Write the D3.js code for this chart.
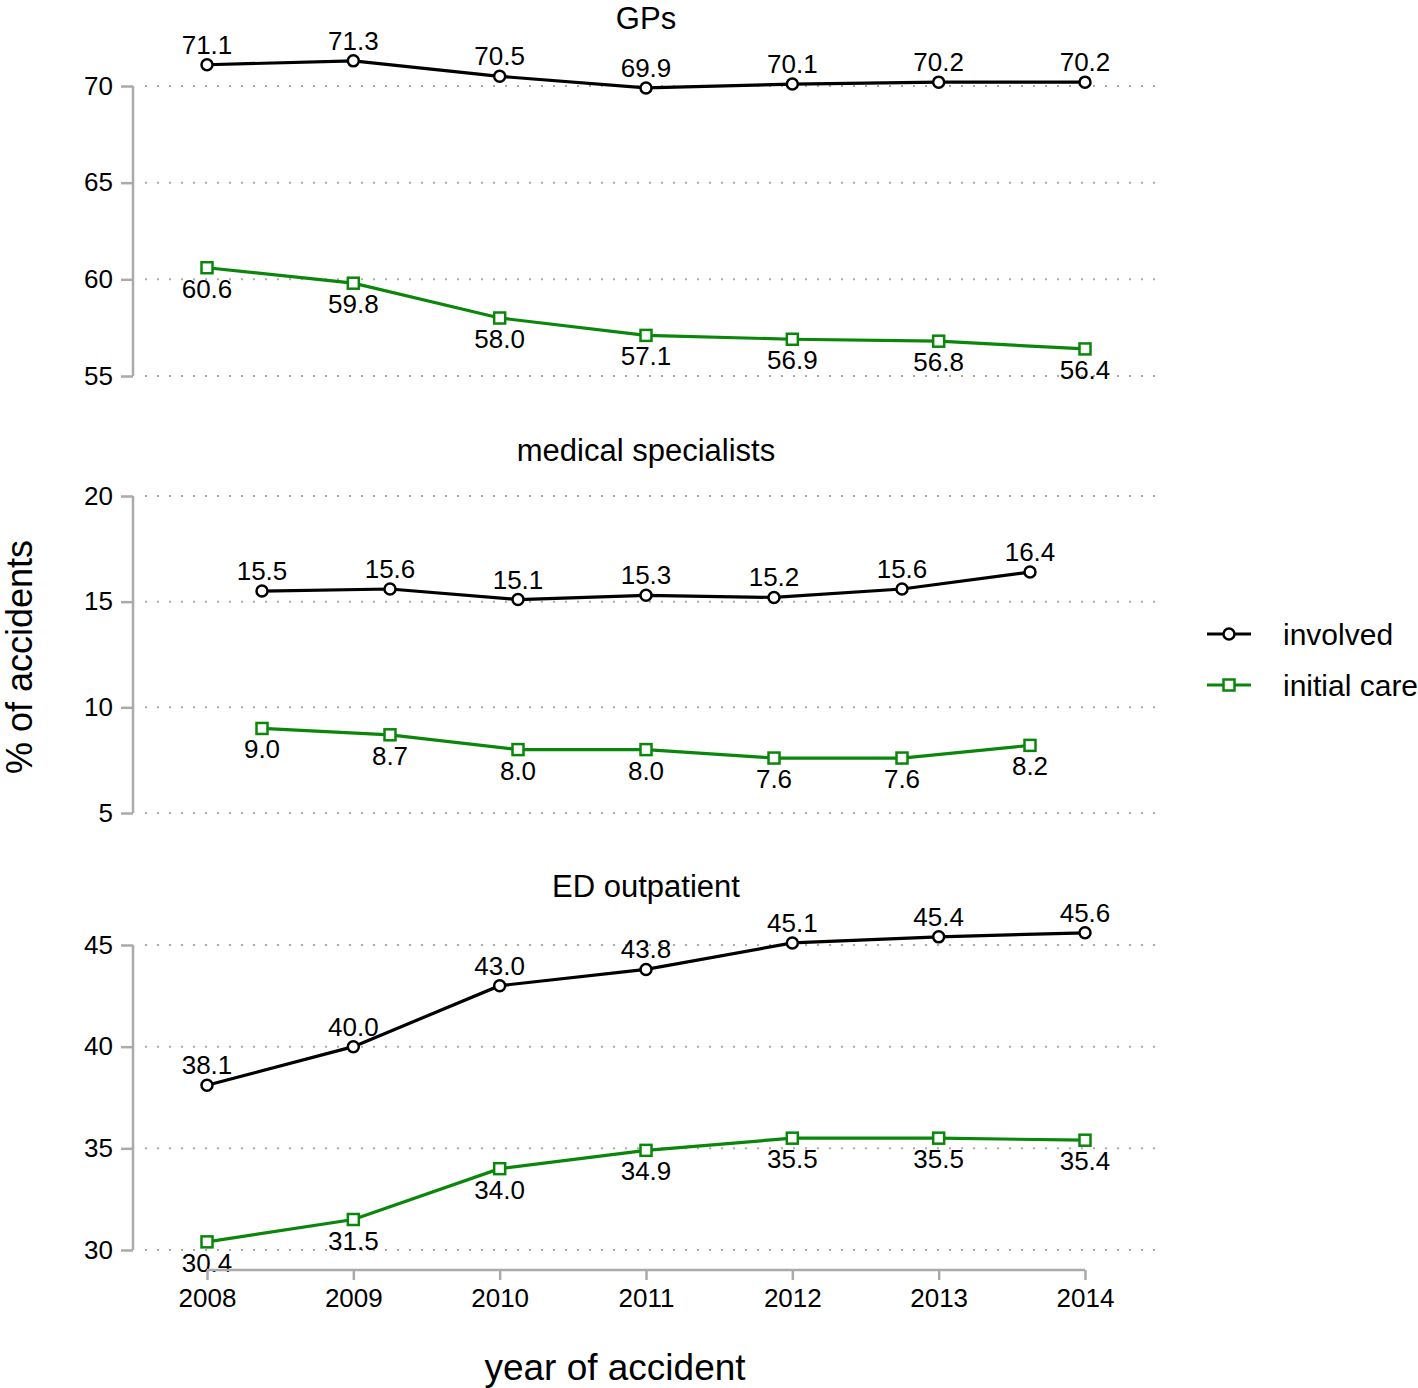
<!DOCTYPE html>
<html>
<head>
<meta charset="utf-8">
<script src="https://cdn.jsdelivr.net/npm/d3@7"></script>
<style>
  body { margin: 0; background: #fff; }
  svg text { font-family: "Liberation Sans", Arial, sans-serif; fill: #000; }
</style>
</head>
<body>
<div id="chart"></div>
<script>

var years = [2008, 2009, 2010, 2011, 2012, 2013, 2014];
var panelTitles = ["GPs", "medical specialists", "ED outpatient"];
var seriesNames = ["involved", "initial care"];

var gpInvolved = [71.1, 71.3, 70.5, 69.9, 70.1, 70.2, 70.2];
var gpInitial = [60.6, 59.8, 58.0, 57.1, 56.9, 56.8, 56.4];
var specInvolved = [15.5, 15.6, 15.1, 15.3, 15.2, 15.6, 16.4];
var specInitial = [9.0, 8.7, 8.0, 8.0, 7.6, 7.6, 8.2];
var edInvolved = [38.1, 40.0, 43.0, 43.8, 45.1, 45.4, 45.6];
var edInitial = [30.4, 31.5, 34.0, 34.9, 35.5, 35.5, 35.4];

var gpTicks = [55, 60, 65, 70];
var specTicks = [5, 10, 15, 20];
var edTicks = [30, 35, 40, 45];

var green = "#0a870a";
var gray = "#aaaaaa";

var svg = d3.select("#chart").append("svg")
    .attr("width", 1418)
    .attr("height", 1388);

//panel layout: y range in pixels and x range for the points
var panels = [
    {title: panelTitles[0], inv: gpInvolved, init: gpInitial, ticks: gpTicks,
     top: 86, bottom: 376, titleY: 29, x0: 207, x1: 1085},
    {title: panelTitles[1], inv: specInvolved, init: specInitial, ticks: specTicks,
     top: 496, bottom: 813, titleY: 461, x0: 262, x1: 1030},
    {title: panelTitles[2], inv: edInvolved, init: edInitial, ticks: edTicks,
     top: 945, bottom: 1250, titleY: 897, x0: 207, x1: 1085}
];

var axisX = 133;

panels.forEach(function (p, pi) {
    var y = d3.scaleLinear()
        .domain([d3.min(p.ticks), d3.max(p.ticks)])
        .range([p.bottom, p.top]);
    var x = d3.scaleLinear()
        .domain([years[0], years[years.length - 1]])
        .range([p.x0, p.x1]);

    var g = svg.append("g");

    //title
    g.append("text")
        .attr("x", 646)
        .attr("y", p.titleY)
        .attr("text-anchor", "middle")
        .style("font-size", "31px")
        .text(p.title);

    //dotted grid
    g.selectAll(".grid").data(p.ticks).enter().append("line")
        .attr("x1", 145).attr("x2", 1158)
        .attr("y1", function (d) { return y(d); })
        .attr("y2", function (d) { return y(d); })
        .style("stroke", gray)
        .style("stroke-width", 2)
        .style("stroke-dasharray", "2,10");

    //y axis
    var yAxis = d3.axisLeft(y)
        .tickValues(p.ticks)
        .tickSize(12)
        .tickPadding(8)
        .tickFormat(d3.format("d"));
    var ga = g.append("g")
        .attr("transform", "translate(" + axisX + ",0)")
        .call(yAxis);
    ga.select(".domain").attr("d", "M0," + y.range()[0] + "V" + y.range()[1])
        .style("stroke", gray).style("stroke-width", 2.5);
    ga.selectAll(".tick line").style("stroke", gray).style("stroke-width", 2.5);
    ga.selectAll(".tick text")
        .style("font-size", "26px")
        .style("font-family", "Liberation Sans, Arial, sans-serif")
        .attr("fill", "#000");

    var line = d3.line()
        .x(function (d, i) { return x(years[i]); })
        .y(function (d) { return y(d); });

    //lines
    g.append("path").datum(p.init)
        .attr("d", line)
        .style("fill", "none").style("stroke", green).style("stroke-width", 3.2);
    g.append("path").datum(p.inv)
        .attr("d", line)
        .style("fill", "none").style("stroke", "#000").style("stroke-width", 3.2);

    //markers
    g.selectAll(".sq").data(p.init).enter().append("rect")
        .attr("x", function (d, i) { return x(years[i]) - 5.5; })
        .attr("y", function (d) { return y(d) - 5.5; })
        .attr("width", 11).attr("height", 11)
        .style("fill", "#fff").style("stroke", green).style("stroke-width", 2.5);
    g.selectAll(".pt").data(p.inv).enter().append("circle")
        .attr("cx", function (d, i) { return x(years[i]); })
        .attr("cy", function (d) { return y(d); })
        .attr("r", 5.5)
        .style("fill", "#fff").style("stroke", "#000").style("stroke-width", 2.5);

    //value labels
    g.selectAll(".lbInv").data(p.inv).enter().append("text")
        .attr("x", function (d, i) { return x(years[i]); })
        .attr("y", function (d) { return y(d) - 11; })
        .attr("text-anchor", "middle")
        .style("font-size", "26px")
        .text(function (d) { return d.toFixed(1); });
    g.selectAll(".lbInit").data(p.init).enter().append("text")
        .attr("x", function (d, i) { return x(years[i]); })
        .attr("y", function (d) { return y(d) + 30; })
        .attr("text-anchor", "middle")
        .style("font-size", "26px")
        .text(function (d) { return d.toFixed(1); });
});

//x axis at the bottom
var xb = d3.scaleLinear()
    .domain([years[0], years[years.length - 1]])
    .range([207, 1085]);
var xAxis = d3.axisBottom(xb)
    .tickValues(years)
    .tickSize(10)
    .tickPadding(9)
    .tickFormat(d3.format("d"));
var gx = svg.append("g")
    .attr("transform", "translate(0,1270)")
    .call(xAxis);
gx.select(".domain").attr("d", "M207,0H1085")
    .style("stroke", gray).style("stroke-width", 2.5);
gx.selectAll(".tick line").style("stroke", gray).style("stroke-width", 2.5);
gx.selectAll(".tick text")
    .style("font-size", "26px")
    .style("font-family", "Liberation Sans, Arial, sans-serif")
    .attr("fill", "#000");

//axis titles
svg.append("text")
    .attr("x", 615).attr("y", 1380)
    .attr("text-anchor", "middle")
    .style("font-size", "37px")
    .text("year of accident");
svg.append("text")
    .attr("transform", "translate(32,657) rotate(-90)")
    .attr("text-anchor", "middle")
    .style("font-size", "36px")
    .text("% of accidents");

//legend
var legend = svg.append("g");
var legendY = [634, 685];
legend.selectAll(".lgl").data(seriesNames).enter().append("line")
    .attr("x1", 1207).attr("x2", 1251)
    .attr("y1", function (d, i) { return legendY[i]; })
    .attr("y2", function (d, i) { return legendY[i]; })
    .style("stroke", function (d, i) { return i === 0 ? "#000" : green; })
    .style("stroke-width", 3.2);
legend.append("circle")
    .attr("cx", 1229).attr("cy", legendY[0]).attr("r", 5.5)
    .style("fill", "#fff").style("stroke", "#000").style("stroke-width", 2.5);
legend.append("rect")
    .attr("x", 1223.5).attr("y", legendY[1] - 5.5).attr("width", 11).attr("height", 11)
    .style("fill", "#fff").style("stroke", green).style("stroke-width", 2.5);
legend.selectAll(".lgt").data(seriesNames).enter().append("text")
    .attr("x", 1283)
    .attr("y", function (d, i) { return legendY[i] + 11; })
    .style("font-size", "30px")
    .text(function (d) { return d; });

</script>
</body>
</html>
